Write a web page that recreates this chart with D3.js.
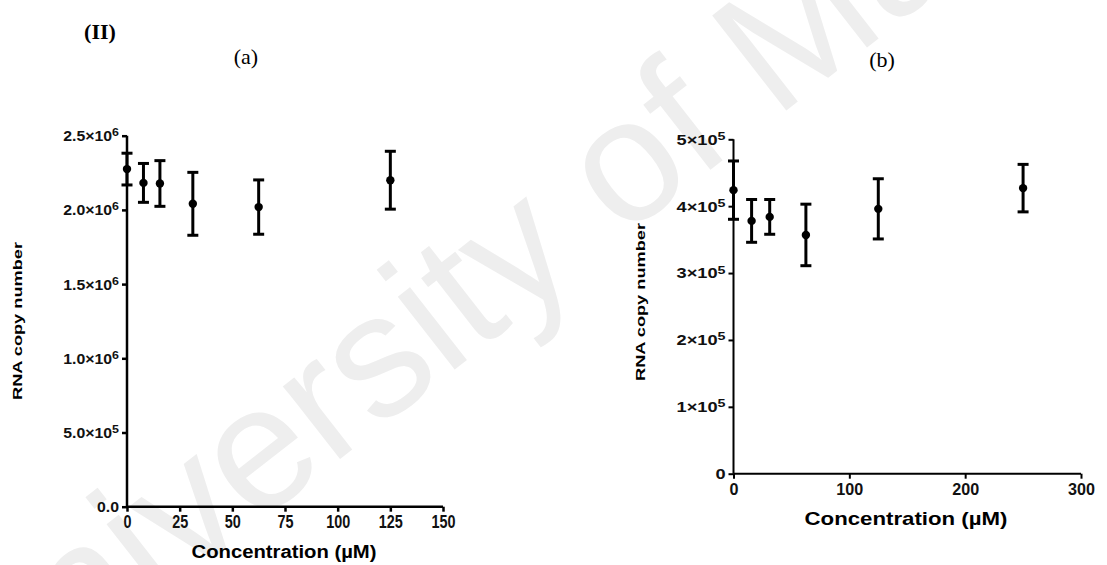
<!DOCTYPE html>
<html>
<head>
<meta charset="utf-8">
<script src="https://cdn.jsdelivr.net/npm/d3@7"></script>
<style>
  body { margin: 0; background: #fff; }
  svg { display: block; }
  .tick text { font-family: Arial, "Liberation Sans", sans-serif; }
</style>
</head>
<body>
<div id="chart"></div>
<script>
// panel (a): concentrations and RNA copy numbers (mean +/- error)
const concA = [0, 7.8125, 15.625, 31.25, 62.5, 125];
const meanA = [2.275e6, 2.182e6, 2.178e6, 2.041e6, 2.019e6, 2.200e6];
const errA = [0.107e6, 0.131e6, 0.154e6, 0.212e6, 0.183e6, 0.195e6];
const xTicksA = [0, 25, 50, 75, 100, 125, 150];
const yTicksA = [0, 5e5, 1e6, 1.5e6, 2e6, 2.5e6];
const yLabelsA = [['0.0', ''], ['5.0×10', '5'], ['1.0×10', '6'], ['1.5×10', '6'], ['2.0×10', '6'], ['2.5×10', '6']];

// panel (b)
const concB = [0, 15.625, 31.25, 62.5, 125, 250];
const meanB = [4.24e5, 3.78e5, 3.84e5, 3.57e5, 3.96e5, 4.27e5];
const errB = [0.436e5, 0.32e5, 0.26e5, 0.46e5, 0.45e5, 0.355e5];
const xTicksB = [0, 100, 200, 300];
const yTicksB = [0, 1e5, 2e5, 3e5, 4e5, 5e5];
const yLabelsB = [['0', ''], ['1×10', '5'], ['2×10', '5'], ['3×10', '5'], ['4×10', '5'], ['5×10', '5']];

const svg = d3.select('#chart')
  .append('svg')
  .attr('width', 1107)
  .attr('height', 565);

// faint watermark behind everything
svg.append('text')
  .attr('transform', 'translate(-22,742) rotate(-38)')
  .style('font-family', 'Arial, "Liberation Sans", sans-serif')
  .style('font-size', '175px')
  .style('fill', '#eeeeee')
  .text('University of Malaya');

// panel titles
const serif = '"Liberation Serif", "DejaVu Serif", serif';
svg.append('text').attr('x', 100).attr('y', 39).attr('text-anchor', 'middle')
  .style('font-family', serif).style('font-size', '22px').style('font-weight', 'bold')
  .text('(II)');
svg.append('text').attr('x', 246).attr('y', 64).attr('text-anchor', 'middle')
  .style('font-family', serif).style('font-size', '22px')
  .text('(a)');
svg.append('text').attr('x', 882).attr('y', 67).attr('text-anchor', 'middle')
  .style('font-family', serif).style('font-size', '22px')
  .text('(b)');

function stretch(sel, k) {
  sel.each(function () {
    const len = this.getComputedTextLength();
    d3.select(this).attr('textLength', len * k).attr('lengthAdjust', 'spacingAndGlyphs');
  });
}

function drawPanel(p) {
  const x = d3.scaleLinear().domain(p.xDomain).range(p.xRange);
  const y = d3.scaleLinear().domain(p.yDomain).range(p.yRange);
  const g = svg.append('g');

  // y axis
  const yAxis = g.append('g')
    .attr('transform', `translate(${p.xRange[0]},0)`)
    .call(d3.axisLeft(y).tickValues(p.yTicks).tickSize(5).tickPadding(3).tickFormat(''));
  yAxis.select('.domain').attr('d', `M0,${p.yRange[0]}V${p.yRange[1]}`);
  yAxis.selectAll('.tick text').each(function (d, i) {
    const t = d3.select(this)
      .attr('fill', '#111')
      .style('font-size', p.yTickFont + 'px')
      .style('font-weight', 'bold')
      .attr('dy', '0.35em');
    t.append('tspan').text(p.yLabels[i][0]);
    if (p.yLabels[i][1]) {
      t.append('tspan').attr('dy', '-0.45em').style('font-size', (p.yTickFont - 3) + 'px').text(p.yLabels[i][1]);
    }
  });
  stretch(yAxis.selectAll('.tick text'), p.yStretch);

  // x axis
  const xAxis = g.append('g')
    .attr('transform', `translate(0,${p.yRange[0]})`)
    .call(d3.axisBottom(x).tickValues(p.xTicks).tickSize(5).tickPadding(4));
  xAxis.select('.domain').attr('d', `M${p.xRange[0]},0H${p.xRange[1]}`);
  xAxis.selectAll('.tick text')
    .attr('fill', '#111')
    .style('font-size', p.xTickFont + 'px')
    .style('font-weight', 'bold');
  stretch(xAxis.selectAll('.tick text'), p.xStretch);

  g.selectAll('.domain, .tick line')
    .attr('stroke', '#000')
    .attr('stroke-width', p.axisWidth);

  // axis titles
  g.append('text')
    .attr('x', p.xLabelX)
    .attr('y', p.xLabelY)
    .attr('text-anchor', 'middle')
    .attr('textLength', p.xLabelLen)
    .attr('lengthAdjust', 'spacingAndGlyphs')
    .style('font-family', 'Arial, "Liberation Sans", sans-serif')
    .style('font-weight', 'bold')
    .style('font-size', p.xLabelFont + 'px')
    .text('Concentration (µM)');
  g.append('text')
    .attr('transform', `translate(${p.yLabelX},${p.yLabelY}) rotate(-90)`)
    .attr('text-anchor', 'middle')
    .attr('textLength', 158)
    .attr('lengthAdjust', 'spacingAndGlyphs')
    .style('font-family', 'Arial, "Liberation Sans", sans-serif')
    .style('font-weight', 'bold')
    .style('font-size', '13px')
    .text('RNA copy number');

  // error bars and points
  const rows = p.conc.map((c, i) => ({ c: c, m: p.mean[i], e: p.err[i] }));
  const bars = g.selectAll('.bar').data(rows).enter().append('g').attr('class', 'bar');
  bars.append('line')
    .attr('x1', d => x(d.c)).attr('x2', d => x(d.c))
    .attr('y1', d => y(d.m - d.e)).attr('y2', d => y(d.m + d.e))
    .attr('stroke', '#000').attr('stroke-width', 3);
  [-1, 1].forEach(s => {
    bars.append('line')
      .attr('x1', d => x(d.c) - 5.5).attr('x2', d => x(d.c) + 5.5)
      .attr('y1', d => y(d.m + s * d.e)).attr('y2', d => y(d.m + s * d.e))
      .attr('stroke', '#000').attr('stroke-width', 3);
  });
  bars.append('circle')
    .attr('cx', d => x(d.c)).attr('cy', d => y(d.m))
    .attr('r', 4.2).attr('fill', '#000');
}

drawPanel({
  conc: concA, mean: meanA, err: errA,
  xDomain: [0, 150], xRange: [127, 443],
  yDomain: [0, 2.5e6], yRange: [506.7, 135.7],
  xTicks: xTicksA, yTicks: yTicksA, yLabels: yLabelsA,
  xTickFont: 18, xStretch: 0.8, yTickFont: 14, yStretch: 1.13, axisWidth: 2.5,
  xLabelX: 284, xLabelY: 558, xLabelFont: 18, xLabelLen: 185,
  yLabelX: 22, yLabelY: 321
});

drawPanel({
  conc: concB, mean: meanB, err: errB,
  xDomain: [0, 300], xRange: [733.5, 1081],
  yDomain: [0, 5e5], yRange: [473.7, 139.3],
  xTicks: xTicksB, yTicks: yTicksB, yLabels: yLabelsB,
  xTickFont: 17, xStretch: 0.95, yTickFont: 14, yStretch: 1.3, axisWidth: 2,
  xLabelX: 906, xLabelY: 525, xLabelFont: 19, xLabelLen: 203,
  yLabelX: 645, yLabelY: 302
});
</script>
</body>
</html>
